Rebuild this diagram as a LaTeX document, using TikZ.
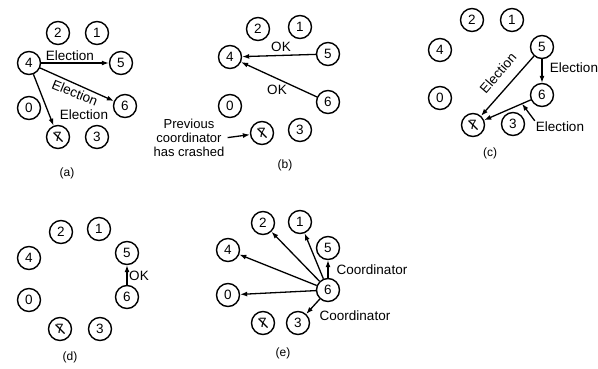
\documentclass[tikz,border=0pt]{standalone}
\usepackage{fontspec}
\setmainfont{Liberation Sans}
\usetikzlibrary{arrows.meta,calc}
\begin{document}
\begin{tikzpicture}[x=1pt,y=-1pt,
  proc/.style={circle,draw,line width=1.4pt,minimum size=23pt,inner sep=0pt,
    font=\fontsize{13.5}{15}\selectfont},
  crashed/.style={proc,path picture={\draw[line width=1.2pt]
    ([shift={(-4.5pt,4.5pt)}]path picture bounding box.center) --
    ([shift={(4.5pt,-4.5pt)}]path picture bounding box.center);}},
  msg/.style={font=\fontsize{13.5}{15}\selectfont,inner sep=1pt},
  panelcap/.style={font=\fontsize{12}{14}\selectfont,inner sep=0pt},
  arr/.style={line width=1.3pt,-{Latex[length=7pt,width=5pt]}},
]
\useasboundingbox (0,0) rectangle (598,368);

% ---------- (a) process 4 starts an election ----------
\node[proc] (a2) at (58,33) {2};
\node[proc] (a1) at (97,33) {1};
\node[proc] (a4) at (29,63) {4};
\node[proc] (a5) at (121,63) {5};
\node[proc] (a0) at (29,108) {0};
\node[proc] (a6) at (125,106) {6};
\node[crashed] (a7) at (58,137) {7};
\node[proc] (a3) at (97,137) {3};
\draw[arr] (a4) -- (a5);
\draw[arr] (a4) -- (a6);
\draw[arr] (a4) -- (a7);
\node[msg] (la1) at (70,56) {Election};
\node[msg,rotate=-22] (la2) at (75,93) {Election};
\node[msg] (la3) at (84,115) {Election};
\node[panelcap] (capa) at (67,173) {(a)};

% ---------- (b) processes 5 and 6 answer OK ----------
\node[proc] (b2) at (258,29) {2};
\node[proc] (b1) at (300,27) {1};
\node[proc] (b4) at (230,57) {4};
\node[proc] (b5) at (328,54) {5};
\node[proc] (b0) at (230,106) {0};
\node[proc] (b6) at (328,102) {6};
\node[crashed] (b7) at (262,133) {7};
\node[proc] (b3) at (300,130) {3};
\draw[arr] (b5) -- (b4);
\draw[arr] (b6) -- (b4);
\node[msg] (lb1) at (281,47) {OK};
\node[msg] (lb2) at (277,90) {OK};
\node[msg,align=center,font=\fontsize{13}{14}\selectfont,inner sep=0pt] (prev) at (189,138)
  {Previous\\coordinator\\has crashed};
\draw[arr,shorten <=3pt] (prev.east) -- (b7);
\node[panelcap] (capb) at (285,165) {(b)};

% ---------- (c) processes 5 and 6 hold elections ----------
\node[proc] (c2) at (472,20) {2};
\node[proc] (c1) at (512,20) {1};
\node[proc] (c4) at (440,50) {4};
\node[proc] (c5) at (542,47) {5};
\node[proc] (c0) at (440,98) {0};
\node[proc] (c6) at (542,95) {6};
\node[crashed] (c7) at (473,125) {7};
\node[proc] (c3) at (513,124) {3};
\draw[arr] (c5) -- (c7);
\draw[arr] (c5) -- (c6);
\draw[arr] (c6) -- (c7);
\node[msg,rotate=49] (lc1) at (498,73) {Election};
\node[msg] (lc2) at (574,68) {Election};
\node[msg] (lc3) at (560,127) {Election};
\coordinate (c67) at ($(c6)!0.29!(c7)$);
\draw[arr] (lc3.north west) -- (c67);
\node[panelcap] (capc) at (490,153) {(c)};

% ---------- (d) process 6 tells 5 to stop ----------
\node[proc] (d2) at (61,232) {2};
\node[proc] (d1) at (99,229) {1};
\node[proc] (d4) at (29,258) {4};
\node[proc] (d5) at (127,253) {5};
\node[proc] (d0) at (29,300) {0};
\node[proc] (d6) at (127,297) {6};
\node[crashed] (d7) at (60,329) {7};
\node[proc] (d3) at (100,329) {3};
\draw[arr] (d6) -- (d5);
\node[msg] (ld1) at (139,276) {OK};
\node[panelcap] (capd) at (70,357) {(d)};

% ---------- (e) process 6 announces itself ----------
\node[proc] (e2) at (263,223) {2};
\node[proc] (e1) at (300,222) {1};
\node[proc] (e4) at (228,250) {4};
\node[proc] (e5) at (328,248) {5};
\node[proc] (e0) at (228,295) {0};
\node[proc] (e6) at (328,290) {6};
\node[crashed] (e7) at (263,323) {7};
\node[proc] (e3) at (298,323) {3};
\foreach \t in {e5,e1,e2,e4,e0,e3}
  \draw[arr] (e6) -- (\t);
\node[msg] (le1) at (372,270) {Coordinator};
\node[msg] (le2) at (355,316) {Coordinator};
\node[panelcap] (cape) at (283,353) {(e)};
\end{tikzpicture}
\end{document}
